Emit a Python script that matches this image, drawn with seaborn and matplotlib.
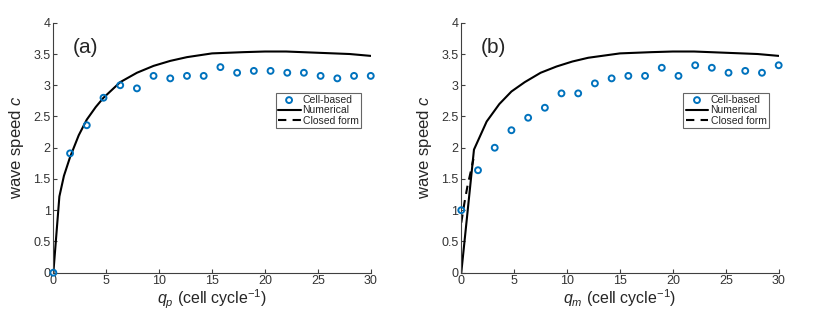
import numpy as np
import pandas as pd
import matplotlib
matplotlib.use("Agg")
import matplotlib.pyplot as plt
import seaborn as sns

# ── Data ──────────────────────────────────────────────────────────────────────
cell_q = [0, 1.58, 3.16, 4.74, 6.32, 7.9, 9.47, 11.05, 12.63, 14.21,
          15.79, 17.37, 18.95, 20.53, 22.11, 23.68, 25.26, 26.84, 28.42, 30]

cell_c_a = [0.0, 1.91, 2.36, 2.80, 3.00, 2.95, 3.15, 3.11, 3.15, 3.15,
            3.29, 3.20, 3.23, 3.23, 3.20, 3.20, 3.15, 3.11, 3.15, 3.15]
cell_c_b = [1.00, 1.64, 2.00, 2.28, 2.48, 2.64, 2.87, 2.87, 3.03, 3.11,
            3.15, 3.15, 3.28, 3.15, 3.32, 3.28, 3.20, 3.23, 3.20, 3.32]

num_q_a = [0, 0.57, 1.0, 1.58, 2.4, 3.16, 4.0, 4.74, 6.32, 7.9, 9.47,
           11.05, 12.63, 15.0, 18.0, 20.0, 22.0, 25.0, 28.0, 30.0]
num_c_a = [0, 1.22, 1.55, 1.85, 2.2, 2.45, 2.65, 2.80, 3.05, 3.20, 3.31,
           3.39, 3.45, 3.51, 3.53, 3.54, 3.54, 3.52, 3.50, 3.47]

num_q_b = [0, 1.2, 2.4, 3.6, 4.74, 6.0, 7.5, 9.0, 10.5, 12.0,
           15.0, 18.0, 20.0, 22.0, 25.0, 28.0, 30.0]
num_c_b = [0, 1.97, 2.42, 2.70, 2.90, 3.05, 3.20, 3.30, 3.38, 3.44,
           3.51, 3.53, 3.54, 3.54, 3.52, 3.50, 3.47]

# closed form is only visible in panel (b)
closed_q_a = []
closed_c_a = []
closed_q_b = [0, 0.3, 0.6, 0.9, 1.15]
closed_c_b = [0.80, 1.12, 1.40, 1.62, 1.82]

BLUE = "#0072BD"
GRAY = "#404040"

# ── Style ─────────────────────────────────────────────────────────────────────
sns.set_style("ticks")
plt.rcParams["font.family"] = ["Liberation Sans", "DejaVu Sans"]
plt.rcParams["mathtext.fontset"] = "custom"
plt.rcParams["mathtext.it"] = "Liberation Sans:italic"
plt.rcParams["mathtext.rm"] = "Liberation Sans"

fig = plt.figure(figsize=(8.17, 3.12), dpi=100)
ax_a = fig.add_axes([0.0653, 0.126, 0.3885, 0.801])
ax_b = fig.add_axes([0.5646, 0.126, 0.3885, 0.801])


def draw_panel(ax, cell_c, num_q, num_c, closed_q, closed_c, tag, xlab):
    sns.lineplot(x=num_q, y=num_c, ax=ax, color="black", lw=1.5, zorder=2,
                 errorbar=None)
    num_line = ax.lines[-1]
    closed_line, = ax.plot(closed_q, closed_c, color="black", lw=1.5,
                           linestyle=(0, (4, 3)), zorder=2)
    sns.scatterplot(x=cell_q, y=cell_c, ax=ax, marker="o", s=18,
                    facecolor="none", edgecolor=BLUE, linewidth=1.4,
                    zorder=3, clip_on=False)
    cell_pts = ax.collections[-1]

    ax.set_xlim(0, 30)
    ax.set_ylim(0, 4)
    ax.set_xticks(np.arange(0, 31, 5))
    ax.set_yticks(np.arange(0, 4.01, 0.5))
    ax.set_yticklabels(["0", "0.5", "1", "1.5", "2", "2.5", "3", "3.5", "4"])
    ax.tick_params(direction="in", length=3, labelsize=9, colors=GRAY,
                   labelcolor="#333333", pad=2)
    for s in ["left", "bottom"]:
        ax.spines[s].set_color(GRAY)
        ax.spines[s].set_linewidth(0.8)
    sns.despine(ax=ax)

    ax.set_xlabel(xlab, fontsize=11.5, labelpad=0)
    ax.set_ylabel("wave speed $c$", fontsize=12, labelpad=5)
    ax.text(1.8, 3.6, tag, fontsize=15, va="center", ha="left")

    leg = ax.legend([cell_pts, num_line, closed_line],
                    ["Cell-based", "Numerical", "Closed form"],
                    loc="upper left", bbox_to_anchor=(0.70, 0.72),
                    fontsize=7.5, frameon=True, fancybox=False,
                    handlelength=2.2, handletextpad=0.2, borderpad=0.2,
                    labelspacing=0.05, borderaxespad=0)
    leg.get_frame().set_edgecolor(GRAY)
    leg.get_frame().set_linewidth(0.8)


draw_panel(ax_a, cell_c_a, num_q_a, num_c_a, closed_q_a, closed_c_a, "(a)",
           "$q_p$ (cell cycle$^{-1}$)")
draw_panel(ax_b, cell_c_b, num_q_b, num_c_b, closed_q_b, closed_c_b, "(b)",
           "$q_m$ (cell cycle$^{-1}$)")

fig.savefig("out.png", dpi=100)
